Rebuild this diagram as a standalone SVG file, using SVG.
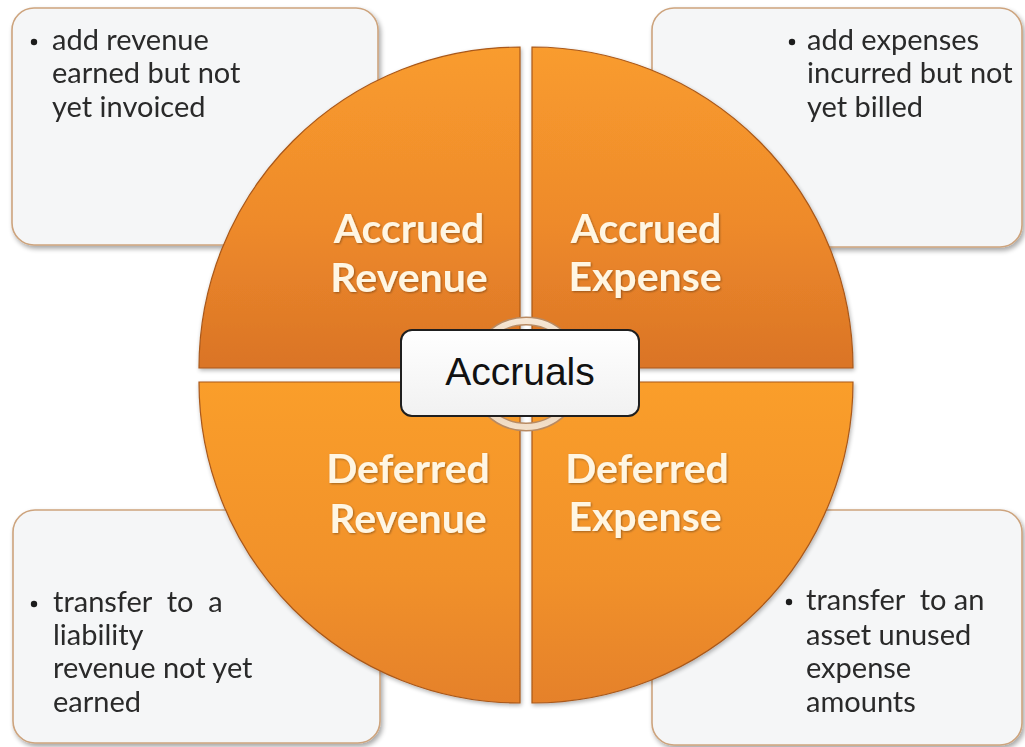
<svg xmlns="http://www.w3.org/2000/svg" width="1025" height="747" viewBox="0 0 1025 747">
  <defs>
    <style>
      .note { fill: #F5F6F7; stroke: #CDA47E; stroke-width: 1.6; }
      .note-text { font-family: Lato, "Open Sans", "Liberation Sans", sans-serif; font-size: 29px; fill: #2A2A2A; }
      .bullet { fill: #1E1E1E; }
      .quad { stroke: #A9581A; stroke-width: 1.2; }
      .quad-label { font-family: Lato, "Open Sans", "Liberation Sans", sans-serif; font-weight: bold; font-size: 41px; fill: #FFF6E3; text-anchor: middle; }
      .hub-text { font-family: "Liberation Sans", Arial, sans-serif; font-size: 39px; fill: #111111; text-anchor: middle; }
    </style>
    <linearGradient id="gradTop" x1="0" y1="0" x2="0" y2="1">
      <stop offset="0" stop-color="#F99C2E"/>
      <stop offset="0.55" stop-color="#EE8A2B"/>
      <stop offset="1" stop-color="#DA7426"/>
    </linearGradient>
    <linearGradient id="gradBottom" x1="0" y1="0" x2="0" y2="1">
      <stop offset="0" stop-color="#FA9E2C"/>
      <stop offset="0.6" stop-color="#F1912C"/>
      <stop offset="1" stop-color="#E5812A"/>
    </linearGradient>
    <linearGradient id="gradHub" x1="0" y1="0" x2="0" y2="1">
      <stop offset="0" stop-color="#FFFFFF"/>
      <stop offset="1" stop-color="#F1F1F1"/>
    </linearGradient>
    <linearGradient id="gradRing" x1="0" y1="0" x2="0" y2="1">
      <stop offset="0" stop-color="#F6E6D4"/>
      <stop offset="0.5" stop-color="#E2C3A2"/>
      <stop offset="1" stop-color="#F2DFC9"/>
    </linearGradient>
    <filter id="noteShadow" x="-5%" y="-5%" width="112%" height="115%">
      <feGaussianBlur in="SourceAlpha" stdDeviation="2.5"/>
      <feOffset dx="2" dy="3" result="blur"/>
      <feComponentTransfer><feFuncA type="linear" slope="0.35"/></feComponentTransfer>
      <feMerge><feMergeNode/><feMergeNode in="SourceGraphic"/></feMerge>
    </filter>
    <filter id="quadShadow" x="-5%" y="-5%" width="112%" height="112%">
      <feGaussianBlur in="SourceAlpha" stdDeviation="2"/>
      <feOffset dx="1" dy="2"/>
      <feComponentTransfer><feFuncA type="linear" slope="0.3"/></feComponentTransfer>
      <feMerge><feMergeNode/><feMergeNode in="SourceGraphic"/></feMerge>
    </filter>
    <filter id="textShadow" x="-5%" y="-10%" width="110%" height="125%">
      <feGaussianBlur in="SourceAlpha" stdDeviation="1"/>
      <feOffset dx="1" dy="1"/>
      <feComponentTransfer><feFuncA type="linear" slope="0.35"/></feComponentTransfer>
      <feMerge><feMergeNode/><feMergeNode in="SourceGraphic"/></feMerge>
    </filter>
  </defs>

  <rect width="1025" height="747" fill="#FFFFFF"/>

  <!-- explanatory note boxes -->
  <g id="note-accrued-revenue" filter="url(#noteShadow)">
    <rect class="note" x="12" y="8" width="366" height="237" rx="22"/>
    <circle class="bullet" cx="34" cy="42" r="3.2"/>
    <text class="note-text" x="52" y="50">add revenue</text>
    <text class="note-text" x="52" y="83">earned but not</text>
    <text class="note-text" x="52" y="117">yet invoiced</text>
  </g>

  <g id="note-accrued-expense" filter="url(#noteShadow)">
    <rect class="note" x="652" y="8" width="370" height="239" rx="22"/>
    <circle class="bullet" cx="792" cy="42" r="3.2"/>
    <text class="note-text" x="807" y="50">add expenses</text>
    <text class="note-text" x="807" y="83">incurred but not</text>
    <text class="note-text" x="807" y="117">yet billed</text>
  </g>

  <g id="note-deferred-revenue" filter="url(#noteShadow)">
    <rect class="note" x="13" y="510" width="367" height="233" rx="22"/>
    <circle class="bullet" cx="34" cy="604" r="3.2"/>
    <text class="note-text" x="53" y="612" xml:space="preserve">transfer  to  a</text>
    <text class="note-text" x="53" y="645">liability</text>
    <text class="note-text" x="53" y="678">revenue not yet</text>
    <text class="note-text" x="53" y="712">earned</text>
  </g>

  <g id="note-deferred-expense" filter="url(#noteShadow)">
    <rect class="note" x="652" y="510" width="370" height="235" rx="22"/>
    <circle class="bullet" cx="789" cy="602" r="3.2"/>
    <text class="note-text" x="806" y="610" xml:space="preserve">transfer  to an</text>
    <text class="note-text" x="806" y="645">asset unused</text>
    <text class="note-text" x="806" y="678">expense</text>
    <text class="note-text" x="806" y="712">amounts</text>
  </g>

  <!-- the four quarter segments of the wheel -->
  <g id="quad-accrued-revenue" filter="url(#quadShadow)">
    <path class="quad" fill="url(#gradTop)" d="M520,368 L199,368 A321,321 0 0 1 520,47 Z"/>
    <text class="quad-label" x="409" y="243" filter="url(#textShadow)">Accrued</text>
    <text class="quad-label" x="409" y="292" filter="url(#textShadow)">Revenue</text>
  </g>

  <g id="quad-accrued-expense" filter="url(#quadShadow)">
    <path class="quad" fill="url(#gradTop)" d="M532,368 L532,47 A321,321 0 0 1 853,368 Z"/>
    <text class="quad-label" x="646" y="243" filter="url(#textShadow)">Accrued</text>
    <text class="quad-label" x="645" y="291" filter="url(#textShadow)">Expense</text>
  </g>

  <g id="quad-deferred-revenue" filter="url(#quadShadow)">
    <path class="quad" fill="url(#gradBottom)" d="M520,382 L520,703 A321,321 0 0 1 199,382 Z"/>
    <text class="quad-label" x="408" y="483" filter="url(#textShadow)">Deferred</text>
    <text class="quad-label" x="408" y="533" filter="url(#textShadow)">Revenue</text>
  </g>

  <g id="quad-deferred-expense" filter="url(#quadShadow)">
    <path class="quad" fill="url(#gradBottom)" d="M532,382 L853,382 A321,321 0 0 1 532,703 Z"/>
    <text class="quad-label" x="647" y="483" filter="url(#textShadow)">Deferred</text>
    <text class="quad-label" x="645" y="531" filter="url(#textShadow)">Expense</text>
  </g>

  <g id="connectors"/>

  <!-- central hub -->
  <g id="hub-accruals">
    <circle cx="526" cy="374" r="53" fill="none" stroke="#B88A62" stroke-width="9"/>
    <circle cx="526" cy="374" r="53" fill="none" stroke="url(#gradRing)" stroke-width="6"/>
    <rect x="401" y="330" width="238" height="86" rx="11" fill="url(#gradHub)" stroke="#1F1F1F" stroke-width="2"/>
    <text class="hub-text" x="520" y="385">Accruals</text>
  </g>
</svg>
